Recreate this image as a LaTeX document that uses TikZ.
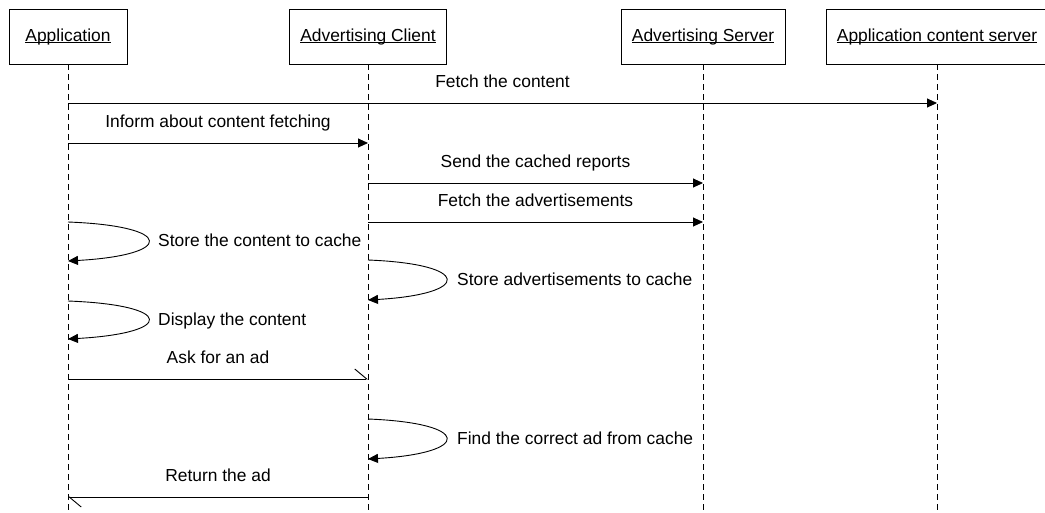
\documentclass[tikz,border=0pt]{standalone}
\usepackage{fontspec}
\setmainfont{Liberation Sans}
\usetikzlibrary{arrows.meta}
% underlined header text with the rule set close under the baseline
\newcommand\headtext[1]{\setbox0\hbox{#1}\rlap{\rule[-1.6pt]{\wd0}{0.9pt}}\box0}
\begin{document}
\begin{tikzpicture}[x=1pt,y=-1pt,
  every node/.style={font=\fontsize{17.4}{20}\selectfont},
  actor/.style={draw, line width=0.9pt, minimum height=55pt, inner sep=0pt},
  lifeline/.style={line width=0.9pt, dash pattern=on 6pt off 4pt},
  msg/.style={line width=0.9pt, -{Triangle[length=10pt,width=9pt]}},
  async/.style={line width=0.9pt, -{Straight Barb[left,length=12pt,width=20pt,line width=0.9pt]}},
  lbl/.style={midway, anchor=base, yshift=16pt, inner sep=0pt},
  note/.style={anchor=base west, inner sep=0pt}]
\useasboundingbox (0,0) rectangle (1045,512);

% participants
\node[actor, minimum width=118pt] (app) at (68,36.5) {\headtext{Application}};
\node[actor, minimum width=157pt] (cli) at (368,36.5) {\headtext{Advertising Client}};
\node[actor, minimum width=164pt] (srv) at (703,36.5) {\headtext{Advertising Server}};
\node[actor, minimum width=222pt] (acs) at (937,36.5) {\headtext{Application content server}};

% lifelines
\foreach \p in {app,cli,srv,acs}{
  \coordinate (\p-end) at (\p |- 0,512);
  \draw[lifeline] (\p.south) -- (\p-end);
}

% message end points
\coordinate (m1a) at (app |- 0,103); \coordinate (m1b) at (acs |- 0,103);
\coordinate (m2a) at (app |- 0,143); \coordinate (m2b) at (cli |- 0,143);
\coordinate (m3a) at (cli |- 0,183); \coordinate (m3b) at (srv |- 0,183);
\coordinate (m4a) at (cli |- 0,222); \coordinate (m4b) at (srv |- 0,222);
\coordinate (s1a) at (app |- 0,222); \coordinate (s1b) at (app |- 0,261);
\coordinate (s2a) at (cli |- 0,260); \coordinate (s2b) at (cli |- 0,300);
\coordinate (s3a) at (app |- 0,301); \coordinate (s3b) at (app |- 0,339);
\coordinate (m5a) at (app |- 0,379); \coordinate (m5b) at (cli |- 0,379);
\coordinate (s4a) at (cli |- 0,419); \coordinate (s4b) at (cli |- 0,459);
\coordinate (m6a) at (cli |- 0,497); \coordinate (m6b) at (app |- 0,497);

% messages
\draw[msg] (m1a) -- node[lbl] {Fetch the content} (m1b);
\draw[msg] (m2a) -- node[lbl] {Inform about content fetching} (m2b);
\draw[msg] (m3a) -- node[lbl] {Send the cached reports} (m3b);
\draw[msg] (m4a) -- node[lbl] {Fetch the advertisements} (m4b);
\draw[async] (m5a) -- node[lbl] {Ask for an ad} (m5b);
\draw[async] (m6a) -- node[lbl] {Return the ad} (m6b);

% self messages
\draw[msg] (s1a) .. controls +(107,4) and +(107,-6) .. (s1b);
\draw[msg] (s2a) .. controls +(104,4) and +(104,-6) .. (s2b);
\draw[msg] (s3a) .. controls +(107,4) and +(107,-6) .. (s3b);
\draw[msg] (s4a) .. controls +(104,4) and +(104,-6) .. (s4b);
\node[note] (t1) at (158,246) {Store the content to cache};
\node[note] (t2) at (457,285) {Store advertisements to cache};
\node[note] (t3) at (158,325) {Display the content};
\node[note] (t4) at (457,444) {Find the correct ad from cache};
\end{tikzpicture}
\end{document}
